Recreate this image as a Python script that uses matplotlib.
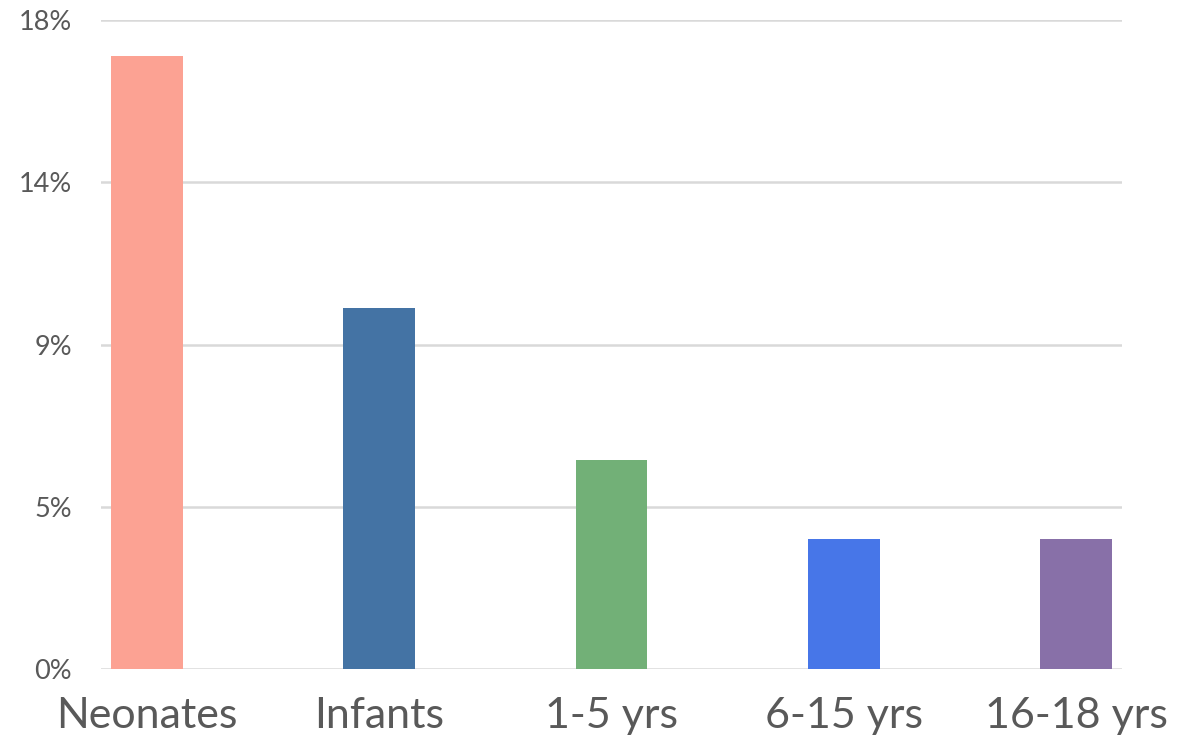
import matplotlib
matplotlib.use("Agg")
import matplotlib.pyplot as plt
import numpy as np

# Share of cases by age group
groups = ["Neonates", "Infants", "1-5 yrs", "6-15 yrs", "16-18 yrs"]
shares = [17.0, 10.0, 5.8, 3.6, 3.6]
colors = ["#FCA293", "#4473A4", "#72B077", "#4776E8", "#8870A8"]

ytick_vals = [0, 4.5, 9, 13.5, 18]
ytick_labels = ["0%", "5%", "9%", "14%", "18%"]

plt.rcParams["font.family"] = ["Lato", "DejaVu Sans"]

fig = plt.figure(figsize=(11.94, 7.38), dpi=100)
ax = fig.add_axes([101 / 1194, 69 / 738, (1122 - 101) / 1194, (669 - 20) / 738])

x = np.arange(len(groups))
ax.bar(x, shares, width=0.31, color=colors, zorder=3)

ax.set_xlim(-0.198, len(groups) - 1 + 0.198)
ax.set_ylim(0, 18)
ax.set_yticks(ytick_vals)
ax.set_yticklabels(ytick_labels)
ax.set_xticks(x)
ax.set_xticklabels(groups)

ax.grid(axis="y", color="#d9d9d9", linewidth=1.8, zorder=0)
ax.set_axisbelow(True)
for s in ax.spines.values():
    s.set_visible(False)

ax.tick_params(axis="y", length=0, pad=21, labelsize=19.5, labelcolor="#595959")
ax.tick_params(axis="x", length=0, pad=20, labelsize=31, labelcolor="#595959")

fig.savefig("out.png", dpi=100)
